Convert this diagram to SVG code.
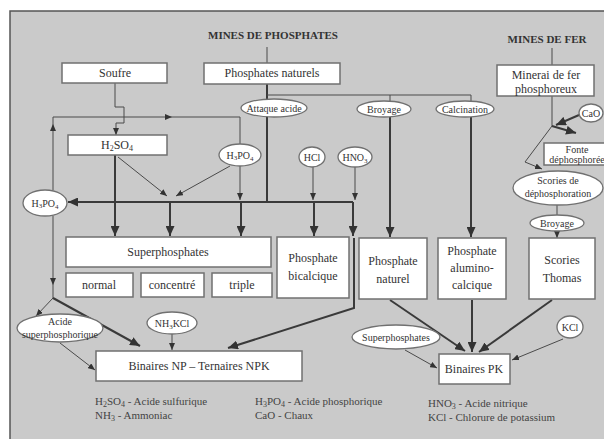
<svg xmlns="http://www.w3.org/2000/svg" width="604" height="439" viewBox="0 0 604 439">
<style>
.bx{fill:#fff;stroke:#707070;stroke-width:1.5}
.el{fill:#fff;stroke:#707070;stroke-width:1.3}
.t{font-size:12px;fill:#333;text-anchor:middle}
.s{font-size:10px}
.h{font-weight:bold;font-size:11px}
.lg{font-size:11px;fill:#444}
.thin{fill:none;stroke:#4a4a4a;stroke-width:1}
.thk{fill:none;stroke:#3a3a3a;stroke-width:2}
</style>
<defs>
<marker id="big" markerUnits="userSpaceOnUse" markerWidth="10" markerHeight="9" refX="10" refY="4.5" orient="auto"><path d="M0,0 L10,4.5 L0,9 z" fill="#333"/></marker>
<marker id="sm" markerUnits="userSpaceOnUse" markerWidth="7" markerHeight="6" refX="7" refY="3" orient="auto"><path d="M0,0 L7,3 L0,6 z" fill="#333"/></marker>
</defs>
<rect x="0" y="0" width="604" height="439" fill="#fff"/>
<rect x="10" y="11" width="600" height="434" fill="#cacaca" stroke="#555" stroke-width="1.5"/>

<g id="connectors">
<path class="thin" d="M267 47 V63"/>
<path class="thk" d="M267 84 V202"/>
<path class="thin" d="M267 95 H471 V101"/>
<path class="thin" d="M390 95 V101"/>
<path class="thk" d="M390 117 V237" marker-end="url(#big)"/>
<path class="thk" d="M471 117 V237" marker-end="url(#big)"/>
<path class="thk" d="M353 202 H68" marker-end="url(#big)"/>
<path class="thk" d="M115 155 V236" marker-end="url(#big)"/>
<path class="thk" d="M170 202 V236" marker-end="url(#big)"/>
<path class="thk" d="M241 202 V236" marker-end="url(#big)"/>
<path class="thk" d="M314 202 V236" marker-end="url(#big)"/>
<path class="thk" d="M353 202 V236" marker-end="url(#big)"/>
<path class="thin" d="M118 157 L167 196" marker-end="url(#sm)"/>
<path class="thin" d="M230 166 L176 196" marker-end="url(#sm)"/>
<path class="thin" d="M240 166 V200" marker-end="url(#sm)"/>
<path class="thin" d="M313 167 V200" marker-end="url(#sm)"/>
<path class="thin" d="M355 167 V200" marker-end="url(#sm)"/>
<path class="thin" d="M115 83 V107 H124 V123 H116 V135" marker-end="url(#sm)"/>
<path class="thin" d="M53 190 V124" marker-end="url(#sm)"/>
<path class="thin" d="M53 124 V117 H172" marker-end="url(#sm)"/>
<path class="thin" d="M172 117 H240 V144"/>
<path class="thin" d="M53 216 V285" marker-end="url(#sm)"/>
<path class="thin" d="M53 285 V298"/>
<path class="thin" d="M53 298 L36 316" marker-end="url(#sm)"/>
<path class="thk" d="M53 298 L140 346" marker-end="url(#big)"/>
<path class="thin" d="M60 343 L95 370" marker-end="url(#sm)"/>
<path class="thin" d="M172 334 V350" marker-end="url(#sm)"/>
<path class="thk" d="M354 238 V308 L228 348" marker-end="url(#big)"/>
<path class="thk" d="M390 300 L465 351" marker-end="url(#big)"/>
<path class="thk" d="M472 300 V352" marker-end="url(#big)"/>
<path class="thk" d="M552 300 L479 352" marker-end="url(#big)"/>
<path class="thin" d="M405 350 L437 368" marker-end="url(#sm)"/>
<path class="thin" d="M563 339 L512 360" marker-end="url(#sm)"/>
<path class="thin" d="M552 48 V65"/>
<path class="thin" d="M552 96 V126"/>
<path class="thk" d="M579 115 L556 125" marker-end="url(#big)"/>
<path class="thk" d="M552 126 L576 133" marker-end="url(#big)"/>
<path class="thin" d="M552 126 L525 162 L542 169" marker-end="url(#sm)"/>
<path class="thin" d="M557 205 V215"/>
<path class="thin" d="M557 231 V238" marker-end="url(#sm)"/>
</g>

<g font-family="'Liberation Serif', 'DejaVu Serif', 'Times New Roman', serif">
<text class="t h" x="273" y="39">MINES DE PHOSPHATES</text>
<text class="t h" x="547" y="43">MINES DE FER</text>

<g id="soufre"><rect class="bx" x="62" y="63" width="105" height="20"/><text class="t" x="115" y="77">Soufre</text></g>
<g id="phosnat"><rect class="bx" x="204" y="63" width="136" height="21"/><text class="t" x="272" y="77">Phosphates naturels</text></g>
<g id="attaque"><ellipse class="el" cx="274" cy="108" rx="33" ry="9"/><text class="t s" x="274" y="112">Attaque acide</text></g>
<g id="broyage1"><ellipse class="el" cx="384" cy="109" rx="27" ry="8"/><text class="t s" x="384" y="113">Broyage</text></g>
<g id="calcination"><ellipse class="el" cx="465" cy="109" rx="29" ry="8"/><text class="t s" x="465" y="113">Calcination</text></g>
<g id="h2so4"><rect class="bx" x="68" y="135" width="99" height="20"/><text class="t" x="117" y="149">H<tspan font-size="8" dy="2">2</tspan><tspan dy="-2">SO</tspan><tspan font-size="8" dy="2">4</tspan></text></g>
<g id="h3po4m"><ellipse class="el" cx="240" cy="155" rx="21" ry="11"/><text class="t s" x="240" y="159">H<tspan font-size="7" dy="1">3</tspan><tspan dy="-1">PO</tspan><tspan font-size="7" dy="2">4</tspan></text></g>
<g id="hcl"><ellipse class="el" cx="312" cy="157" rx="13" ry="10"/><text class="t s" x="312" y="161">HCl</text></g>
<g id="hno3"><ellipse class="el" cx="355" cy="157" rx="17" ry="10"/><text class="t s" x="355" y="161">HNO<tspan font-size="7" dy="2">3</tspan></text></g>
<g id="h3po4l"><ellipse class="el" cx="45" cy="203" rx="22" ry="13"/><text class="t s" x="45" y="207">H<tspan font-size="7" dy="1">3</tspan><tspan dy="-1">PO</tspan><tspan font-size="7" dy="2">4</tspan></text></g>
<g id="minerai"><rect class="bx" x="497" y="65" width="97" height="31"/><text class="t" x="546" y="79">Minerai de fer</text><text class="t" x="546" y="93">phosphoreux</text></g>
<g id="cao"><ellipse class="el" cx="591" cy="113" rx="12" ry="9"/><text class="t s" x="591" y="117">CaO</text></g>
<g id="fonte"><rect class="bx" x="544" y="143" width="64" height="22"/><text class="t s" x="577" y="153">Fonte</text><text class="t s" x="577" y="163">déphosphorée</text></g>
<g id="scories"><ellipse class="el" cx="558" cy="188" rx="45" ry="17"/><text class="t s" x="558" y="184">Scories de</text><text class="t s" x="558" y="197">déphosphoration</text></g>
<g id="broyage2"><ellipse class="el" cx="557" cy="223" rx="27" ry="8"/><text class="t s" x="557" y="227">Broyage</text></g>
<g id="superph"><rect class="bx" x="66" y="237" width="205" height="30"/><text class="t" x="168" y="256">Superphosphates</text></g>
<g id="normal"><rect class="bx" x="66" y="273" width="67" height="24"/><text class="t" x="99" y="289">normal</text></g>
<g id="concentre"><rect class="bx" x="141" y="273" width="63" height="24"/><text class="t" x="172" y="289">concentré</text></g>
<g id="triple"><rect class="bx" x="212" y="273" width="60" height="24"/><text class="t" x="242" y="289">triple</text></g>
<g id="bical"><rect class="bx" x="277" y="237" width="72" height="61"/><text class="t" x="313" y="262">Phosphate</text><text class="t" x="313" y="280">bicalcique</text></g>
<g id="naturel"><rect class="bx" x="359" y="238" width="68" height="61"/><text class="t" x="393" y="265">Phosphate</text><text class="t" x="393" y="283">naturel</text></g>
<g id="alumino"><rect class="bx" x="438" y="238" width="68" height="61"/><text class="t" x="472" y="255">Phosphate</text><text class="t" x="472" y="272">alumino-</text><text class="t" x="472" y="289">calcique</text></g>
<g id="thomas"><rect class="bx" x="529" y="238" width="66" height="61"/><text class="t" x="562" y="264">Scories</text><text class="t" x="562" y="282">Thomas</text></g>
<g id="acidesp"><ellipse class="el" cx="60" cy="328" rx="43" ry="14"/><text class="t s" x="60" y="325">Acide</text><text class="t s" x="60" y="338">superphosphorique</text></g>
<g id="nh3kcl"><ellipse class="el" cx="172" cy="323" rx="25" ry="11"/><text class="t s" x="172" y="327">NH<tspan font-size="7" dy="2">3</tspan><tspan dy="-2">KCl</tspan></text></g>
<g id="binnp"><rect class="bx" x="96" y="351" width="206" height="30"/><text class="t" x="199" y="370">Binaires NP – Ternaires NPK</text></g>
<g id="superell"><ellipse class="el" cx="396" cy="337" rx="44" ry="12"/><text class="t s" x="396" y="341">Superphosphates</text></g>
<g id="kcl"><ellipse class="el" cx="570" cy="327" rx="13" ry="11"/><text class="t s" x="570" y="331">KCl</text></g>
<g id="binpk"><rect class="bx" x="439" y="354" width="71" height="30"/><text class="t" x="474" y="373">Binaires PK</text></g>

<g id="legend">
<text class="lg" x="95" y="405">H<tspan font-size="8" dy="2">2</tspan><tspan dy="-2">SO</tspan><tspan font-size="8" dy="2">4</tspan><tspan dy="-2"> - Acide sulfurique</tspan></text>
<text class="lg" x="95" y="419">NH<tspan font-size="8" dy="2">3</tspan><tspan dy="-2"> - Ammoniac</tspan></text>
<text class="lg" x="255" y="405">H<tspan font-size="8" dy="2">3</tspan><tspan dy="-2">PO</tspan><tspan font-size="8" dy="2">4</tspan><tspan dy="-2"> - Acide phosphorique</tspan></text>
<text class="lg" x="255" y="419">CaO - Chaux</text>
<text class="lg" x="428" y="407">HNO<tspan font-size="8" dy="2">3</tspan><tspan dy="-2"> - Acide nitrique</tspan></text>
<text class="lg" x="428" y="421">KCl - Chlorure de potassium</text>
</g>
</g>
</svg>
